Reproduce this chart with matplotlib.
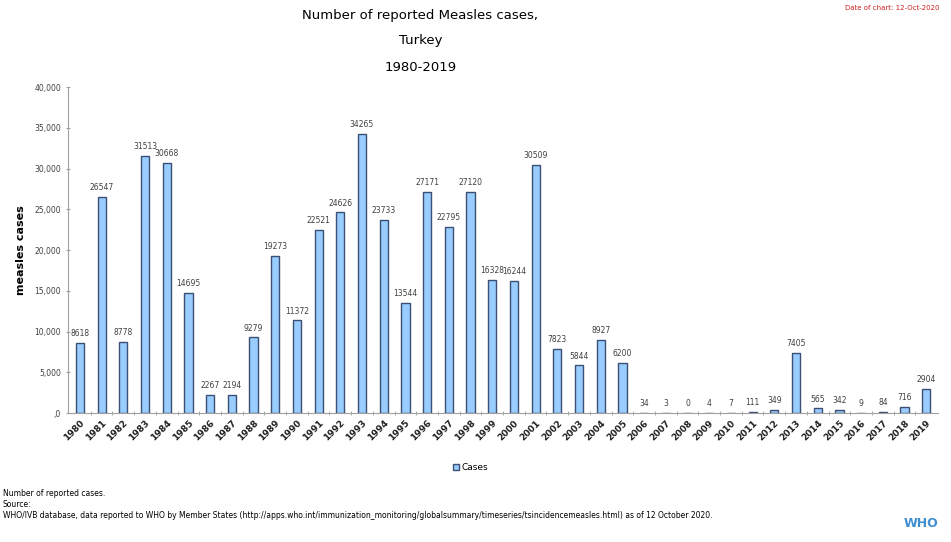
import numpy as np
import matplotlib.pyplot as plt

# measles cases, Turkey 1980-2019
years = [str(y) for y in range(1980, 2020)]
cases = [8618, 26547, 8778, 31513, 30668, 14695, 2267, 2194, 9279, 19273,
         11372, 22521, 24626, 34265, 23733, 13544, 27171, 22795, 27120, 16328,
         16244, 30509, 7823, 5844, 8927, 6200, 34, 3, 0, 4,
         7, 111, 349, 7405, 565, 342, 9, 84, 716, 2904]
yticks = [0, 5000, 10000, 15000, 20000, 25000, 30000, 35000, 40000]
ytick_labels = [',0', '5,000', '10,000', '15,000', '20,000', '25,000', '30,000', '35,000', '40,000']

fig = plt.figure(figsize=(9.51, 5.42), dpi=100)
ax = fig.add_axes([0.0715, 0.238, 0.915, 0.601])

x = np.arange(len(years))
ax.bar(x, cases, width=0.38, color='#99ccff', edgecolor='#3a4f73', linewidth=1.0, label='Cases')

#value labels on top of the bars
for xi, v in zip(x, cases):
    ax.text(xi, v + 600, str(v), ha='center', va='bottom', fontsize=5.5, color='#404040')

ax.set_xlim(-0.55, len(years) - 0.45)
ax.set_ylim(0, 40000)
ax.set_yticks(yticks)
ax.set_yticklabels(ytick_labels, fontsize=5.5, color='#404040')
ax.set_xticks(x)
ax.set_xticklabels(years, rotation=45, ha='right', rotation_mode='anchor',
                   fontsize=6.5, fontweight='bold', color='#202020')
ax.set_xticks(x[:-1] + 0.5, minor=True)
ax.tick_params(axis='x', which='major', length=0, pad=4)
ax.tick_params(axis='x', which='minor', length=3, color='#a0a0a0', direction='inout')
ax.tick_params(axis='y', length=3, color='#a0a0a0', direction='inout')
ax.set_ylabel('measles cases', fontsize=8, fontweight='bold', labelpad=6)

for s in ['top', 'right']:
    ax.spines[s].set_visible(False)
ax.spines['left'].set_color('#a0a0a0')
ax.spines['bottom'].set_color('#a0a0a0')

fig.text(0.442, 0.972, 'Number of reported Measles cases,', ha='center', va='center', fontsize=9.5)
fig.text(0.442, 0.926, 'Turkey', ha='center', va='center', fontsize=9.5)
fig.text(0.442, 0.876, '1980-2019', ha='center', va='center', fontsize=9.5)
fig.text(0.988, 0.985, 'Date of chart: 12-Oct-2020', ha='right', va='center', fontsize=5, color='#d02020')

fig.legend(loc='center', bbox_to_anchor=(0.495, 0.137), frameon=False, fontsize=6.5,
           handlelength=0.7, handleheight=0.7, handletextpad=0.3)

fig.text(0.003, 0.090, 'Number of reported cases.', fontsize=5.5, va='center')
fig.text(0.003, 0.070, 'Source:', fontsize=5.5, va='center')
fig.text(0.003, 0.048, 'WHO/IVB database, data reported to WHO by Member States '
         '(http://apps.who.int/immunization_monitoring/globalsummary/timeseries/tsincidencemeasles.html) '
         'as of 12 October 2020.', fontsize=5.5, va='center')
fig.text(0.968, 0.035, 'WHO', ha='center', va='center', fontsize=9, color='#3f8fd0', fontweight='bold')

fig.savefig('out.png', dpi=100)
